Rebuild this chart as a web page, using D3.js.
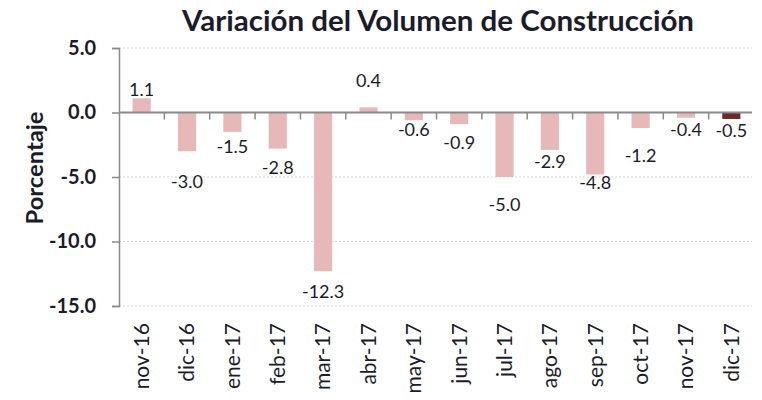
<!DOCTYPE html>
<html><head><meta charset="utf-8">
<script src="https://cdn.jsdelivr.net/npm/d3@7"></script>
<style>body{margin:0;background:#fff}svg{display:block}</style>
</head><body><svg id="c" width="762" height="400"></svg>
<script>
const categories = ["nov-16","dic-16","ene-17","feb-17","mar-17","abr-17","may-17","jun-17","jul-17","ago-17","sep-17","oct-17","nov-17","dic-17"];
const values = [1.1,-3.0,-1.5,-2.8,-12.3,0.4,-0.6,-0.9,-5.0,-2.9,-4.8,-1.2,-0.4,-0.5];
const yTicks = [5,0,-5,-10,-15];
const title = "Variación del Volumen de Construcción";
const yTitle = "Porcentaje";

const fmt = d3.formatLocale({decimal:".", thousands:",", grouping:[3], currency:["",""], minus:"-"}).format(".1f");
const svg = d3.select("#c");
const m = {l:119, r:754, t:48, b:306};
const x = d3.scaleBand().domain(categories).range([m.l, m.r]).paddingInner(0.6).paddingOuter(0.3);
const xb = d3.scaleBand().domain(categories).range([m.l, m.r]);
const y = d3.scaleLinear().domain([-15,5]).range([m.b, m.t]);
const font = "Lato, 'Open Sans', sans-serif";

// grid
svg.append("g").selectAll("line").data(yTicks.filter(d=>d!==0)).join("line")
  .attr("x1", m.l).attr("x2", 752).attr("y1", d=>y(d)).attr("y2", d=>y(d))
  .attr("stroke", "#d8d8c8").attr("stroke-width", 1.2).attr("stroke-dasharray", "2,2");

// bars
svg.append("g").selectAll("rect").data(values).join("rect")
  .attr("x", (d,i)=>x(categories[i]))
  .attr("width", x.bandwidth())
  .attr("y", d=>y(Math.max(0,d)))
  .attr("height", d=>Math.abs(y(d)-y(0)))
  .attr("fill", (d,i)=> i===values.length-1 ? "#6b2a2a" : "#e6b9b8");

// y axis
const yAxis = d3.axisLeft(y).tickValues(yTicks).tickFormat(fmt).tickSize(7).tickPadding(10);
const gy = svg.append("g").attr("transform", `translate(${m.l},0)`).call(yAxis);
gy.select(".domain").attr("stroke", "#8a8a8a").attr("stroke-width", 1.5);
gy.selectAll(".tick line").attr("stroke", "#8a8a8a").attr("stroke-width", 1.5);
gy.selectAll(".tick text").attr("font-family", font).attr("font-size", 20).attr("font-weight", "bold").attr("fill", "#1b1b2a")
  .attr("x", -23);

// zero axis with category boundary ticks
svg.append("line").attr("x1", m.l).attr("x2", 752).attr("y1", y(0)).attr("y2", y(0))
  .attr("stroke", "#8a8a8a").attr("stroke-width", 2);
svg.append("g").selectAll("line").data(categories.slice(1)).join("line")
  .attr("x1", d=>xb(d)).attr("x2", d=>xb(d)).attr("y1", y(0)).attr("y2", y(0)+7)
  .attr("stroke", "#8a8a8a").attr("stroke-width", 1.5);

// category labels
svg.append("g").selectAll("text").data(categories).join("text")
  .attr("transform", d=>`translate(${xb(d)+xb.bandwidth()/2},323) rotate(-90)`)
  .attr("text-anchor", "end").attr("dy", "0.35em")
  .attr("font-family", font).attr("font-size", 21).attr("fill", "#1b1b2a")
  .text(d=>d);

// data labels (nudged as in reference)
const nudge = [-9,30,15,19,21,-27,9,19,28,12,8,28,12,12];
svg.append("g").selectAll("text").data(values).join("text")
  .attr("x", (d,i)=>x(categories[i])+x.bandwidth()/2)
  .attr("y", (d,i)=>y(d)+nudge[i])
  .attr("dy", "0.35em")
  .attr("text-anchor", "middle")
  .attr("font-family", font).attr("font-size", 18).attr("fill", "#1b1b2a")
  .text(d=>fmt(d));

// title
svg.append("text").attr("x", 438).attr("y", 31).attr("text-anchor", "middle")
  .attr("font-family", font).attr("font-size", 28).attr("font-weight", "bold").attr("fill", "#1b1b2a")
  .attr("textLength", 512).attr("lengthAdjust", "spacingAndGlyphs")
  .text(title);

// y title
svg.append("text").attr("transform", "translate(35,168) rotate(-90)").attr("text-anchor", "middle").attr("dy", "0.35em")
  .attr("font-family", font).attr("font-size", 22).attr("font-weight", "bold").attr("fill", "#1b1b2a")
  .attr("textLength", 113).attr("lengthAdjust", "spacingAndGlyphs")
  .text(yTitle);
</script></body></html>
